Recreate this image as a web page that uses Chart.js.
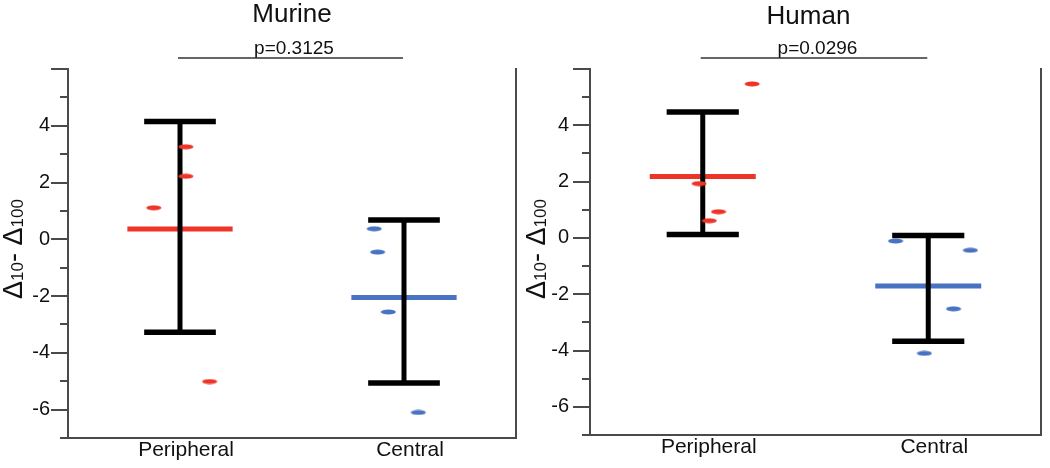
<!DOCTYPE html>
<html>
<head>
<meta charset="utf-8">
<script src="https://cdn.jsdelivr.net/npm/chart.js@4.4.1/dist/chart.umd.min.js"></script>
<style>
  html, body { margin: 0; padding: 0; background: #fff; }
  #wrap { position: relative; width: 1050px; height: 468px; }
  canvas { position: absolute; top: 0; }
</style>
</head>
<body>
<div id="wrap">
  <canvas id="murine" width="525" height="468" style="left:0px"></canvas>
  <canvas id="human" width="525" height="468" style="left:525px"></canvas>
</div>
<script>
// ---------- data ----------
const categories = ['Peripheral', 'Central'];
const tickLabels = ['-6', '-4', '-2', '0', '2', '4'];
const panelTitles = ['Murine', 'Human'];
const pLabels = ['p=0.3125', 'p=0.0296'];

// Murine
const murinePeripheral = [3.26, 2.22, 1.11, -5.01];
const murinePeripheralJitter = [0.026, 0.026, -0.117, 0.132];
const murineCentral = [0.37, -0.45, -2.56, -6.10];
const murineCentralJitter = [-0.133, -0.118, -0.07, 0.064];
const murineMeans = [0.36, -2.05];
const murineErrTop = [4.15, 0.68];
const murineErrBottom = [-3.27, -5.06];

// Human
const humanPeripheral = [5.47, 1.93, 0.93, 0.61];
const humanPeripheralJitter = [0.219, -0.016, 0.07, 0.029];
const humanCentral = [-0.11, -0.44, -2.52, -4.10];
const humanCentralJitter = [-0.145, 0.187, 0.112, -0.017];
const humanMeans = [2.18, -1.71];
const humanErrTop = [4.47, 0.09];
const humanErrBottom = [0.12, -3.67];

// ---------- styling ----------
const FONT = '"Liberation Sans", Arial, sans-serif';
const RED = '#ee3427';
const BLUE = '#4872c2';
const AXIS = '#4a4a4a';
const MEAN_HALF = 0.235;
const CAP_HALF = 0.16;

Chart.defaults.font.family = FONT;
Chart.defaults.color = '#111';

function ellipseStyle(color) {
  const c = document.createElement('canvas');
  c.width = 16; c.height = 6;
  const g = c.getContext('2d');
  g.fillStyle = color;
  g.beginPath();
  g.ellipse(8, 3, 7.5, 2.6, 0, 0, Math.PI * 2);
  g.fill();
  return c;
}

const annotPlugin = {
  id: 'annot',
  afterDraw(chart, args, o) {
    const { ctx, chartArea: ca, scales: { x, y } } = chart;
    ctx.save();
    // y tick marks (long for even, short for odd)
    ctx.strokeStyle = AXIS;
    ctx.lineWidth = 2;
    y.ticks.forEach(t => {
      const py = Math.round(y.getPixelForValue(t.value));
      const len = (Math.abs(t.value) % 2 === 0) ? 17 : 8;
      ctx.beginPath();
      ctx.moveTo(ca.left - len, py);
      ctx.lineTo(ca.left, py);
      ctx.stroke();
    });
    // right border
    ctx.beginPath();
    ctx.moveTo(ca.right, ca.top - 1);
    ctx.lineTo(ca.right, ca.bottom + 1);
    ctx.stroke();

    // title
    ctx.fillStyle = '#111';
    ctx.textAlign = 'center';
    ctx.textBaseline = 'alphabetic';
    ctx.font = '26px ' + FONT;
    ctx.fillText(o.title, (ca.left + ca.right) / 2 + o.titleDx, o.titleY);

    // p value bracket
    const x0 = x.getPixelForValue(0), x1 = x.getPixelForValue(1);
    ctx.font = '19px ' + FONT;
    ctx.fillText(o.p, (x0 + x1) / 2 + 2, 54);
    ctx.strokeStyle = '#333';
    ctx.lineWidth = 1.6;
    ctx.beginPath();
    ctx.moveTo(x0 - 2, 58);
    ctx.lineTo(x1 - 1, 58);
    ctx.stroke();

    // y axis title: Δ10- Δ100 with subscripts
    const pieces = [
      ['Δ', 27, 0], ['10', 17, 1], ['- ', 27, 0], ['Δ', 27, 0], ['100', 17, 1]
    ];
    let total = 0;
    pieces.forEach(p => { ctx.font = p[1] + 'px ' + FONT; total += ctx.measureText(p[0]).width; });
    ctx.translate(o.yTitleX, 249);
    ctx.rotate(-Math.PI / 2);
    ctx.textAlign = 'left';
    let cx = -total / 2;
    pieces.forEach(p => {
      ctx.font = p[1] + 'px ' + FONT;
      ctx.fillText(p[0], cx, p[2]);
      cx += ctx.measureText(p[0]).width;
    });
    ctx.restore();
  }
};

function makePanel(id, cfg) {
  const datasets = [];
  cfg.groups.forEach((g, i) => {
    datasets.push({
      type: 'scatter',
      data: g.values.map((v, k) => ({ x: i + g.jitter[k], y: v })),
      pointStyle: ellipseStyle(g.color),
      pointRadius: 8,
      order: 0
    });
    const lineBase = { type: 'line', showLine: true, pointRadius: 0, borderColor: '#000', fill: false, borderCapStyle: 'butt' };
    datasets.push(Object.assign({}, lineBase, { data: [{ x: i, y: g.top }, { x: i, y: g.bottom }], borderWidth: 5, order: 1 }));
    datasets.push(Object.assign({}, lineBase, { data: [{ x: i - CAP_HALF, y: g.top }, { x: i + CAP_HALF, y: g.top }], borderWidth: 5.5, order: 1 }));
    datasets.push(Object.assign({}, lineBase, { data: [{ x: i - CAP_HALF, y: g.bottom }, { x: i + CAP_HALF, y: g.bottom }], borderWidth: 5.5, order: 1 }));
    datasets.push(Object.assign({}, lineBase, { data: [{ x: i - MEAN_HALF, y: g.mean }, { x: i + MEAN_HALF, y: g.mean }], borderColor: g.color, borderWidth: 5, order: 2 }));
  });

  new Chart(document.getElementById(id), {
    type: 'scatter',
    data: { datasets },
    options: {
      responsive: false,
      animation: false,
      devicePixelRatio: 1,
      layout: { padding: { top: 69, right: cfg.padRight, left: 0, bottom: 0 } },
      plugins: {
        legend: { display: false },
        tooltip: { enabled: false },
        annot: { title: cfg.title, p: cfg.p, titleDx: cfg.titleDx, titleY: cfg.titleY, yTitleX: cfg.yTitleX }
      },
      scales: {
        x: {
          type: 'linear',
          min: -0.5, max: 1.5,
          afterBuildTicks: s => { s.ticks = categories.map((_, i) => ({ value: i })); },
          afterFit: s => { s.height = 26; },
          ticks: {
            autoSkip: false,
            callback: v => categories[v],
            font: { size: 21 },
            color: '#111',
            padding: 0,
            labelOffset: 6,
            maxRotation: 0
          },
          grid: { display: false, drawTicks: false },
          border: { display: true, color: AXIS, width: 2 }
        },
        y: {
          type: 'linear',
          min: -7, max: 6,
          afterFit: s => { s.width = cfg.axisWidth; },
          ticks: {
            stepSize: 1,
            autoSkip: false,
            callback: v => tickLabels.includes(String(v)) ? String(v) : '',
            font: { size: 20 },
            color: '#111',
            padding: cfg.tickPad
          },
          grid: { display: false, drawTicks: false },
          border: { display: true, color: AXIS, width: 2 }
        }
      }
    },
    plugins: [annotPlugin]
  });
}

makePanel('murine', {
  title: panelTitles[0], p: pLabels[0], titleDx: 0, titleY: 22, yTitleX: 22,
  axisWidth: 68, padRight: 5, tickPad: 18,
  groups: [
    { values: murinePeripheral, jitter: murinePeripheralJitter, mean: murineMeans[0], top: murineErrTop[0], bottom: murineErrBottom[0], color: RED },
    { values: murineCentral, jitter: murineCentralJitter, mean: murineMeans[1], top: murineErrTop[1], bottom: murineErrBottom[1], color: BLUE }
  ]
});

makePanel('human', {
  title: panelTitles[1], p: pLabels[1], titleDx: -7, titleY: 24, yTitleX: 20,
  axisWidth: 65, padRight: 6, tickPad: 21,
  groups: [
    { values: humanPeripheral, jitter: humanPeripheralJitter, mean: humanMeans[0], top: humanErrTop[0], bottom: humanErrBottom[0], color: RED },
    { values: humanCentral, jitter: humanCentralJitter, mean: humanMeans[1], top: humanErrTop[1], bottom: humanErrBottom[1], color: BLUE }
  ]
});
</script>
</body>
</html>
